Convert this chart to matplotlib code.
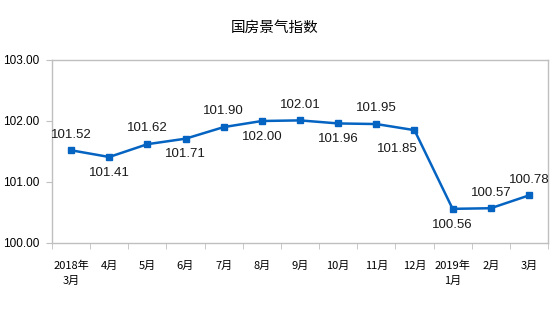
import matplotlib
matplotlib.use("Agg")
import matplotlib.pyplot as plt
import numpy as np

plt.rcParams["font.family"] = ["Liberation Sans", "Noto Sans CJK SC", "DejaVu Sans"]

# 国房景气指数, 2018年3月 - 2019年3月
months = ["2018年\n3月", "4月", "5月", "6月", "7月", "8月", "9月", "10月",
          "11月", "12月", "2019年\n1月", "2月", "3月"]
index_values = [101.52, 101.41, 101.62, 101.71, 101.90, 102.00, 102.01,
                101.96, 101.95, 101.85, 100.56, 100.57, 100.78]
# label placement: +1 above the point, -1 below
label_side = [1, -1, 1, -1, 1, -1, 1, -1, 1, -1, -1, 1, 1]

BLUE = "#0563C1"
GRID = "#BFBFBF"

fig = plt.figure(figsize=(5.54, 3.31), dpi=100, facecolor="white")
ax = fig.add_axes([52 / 554, 1 - 243 / 331, 496 / 554, 183 / 331])

x = np.arange(len(months))
ax.plot(x, index_values, color=BLUE, lw=1.8, marker="s", ms=5, zorder=3)

for i, (v, s) in enumerate(zip(index_values, label_side)):
    dx = -12 if i == 9 else 0
    dy = 9 if i == 9 else 7
    ax.annotate(f"{v:.2f}", (i, v), xytext=(dx, dy * s), textcoords="offset points",
                ha="center", va="bottom" if s > 0 else "top", fontsize=9.5,
                color="#1a1a1a", family="Liberation Sans")

ax.set_xlim(-0.5, len(months) - 0.5)
ax.set_ylim(100, 103)
ax.set_yticks([100, 101, 102, 103])
ax.set_yticklabels([f"{t:.2f}" for t in [100, 101, 102, 103]], fontsize=8.5)

# category labels centred, tick marks between categories
ax.set_xticks(x)
ax.set_xticklabels(months, fontsize=8, linespacing=1.6,
                   family=["Noto Sans CJK SC", "DejaVu Sans"])
ax.tick_params(axis="x", length=0, pad=13)
ax.set_xticks(np.arange(len(months) + 1) - 0.5, minor=True)
ax.tick_params(axis="x", which="minor", length=4, color=GRID, direction="out")
ax.tick_params(axis="y", length=4, color=GRID, direction="out", pad=5)

for sp in ax.spines.values():
    sp.set_color(GRID)
    sp.set_linewidth(1)

fig.text(275 / 554, 1 - 28 / 331, "国房景气指数", ha="center", va="center",
         fontsize=10.5, family=["Noto Sans CJK SC", "DejaVu Sans"])

fig.savefig("out.png", dpi=100, facecolor="white")
